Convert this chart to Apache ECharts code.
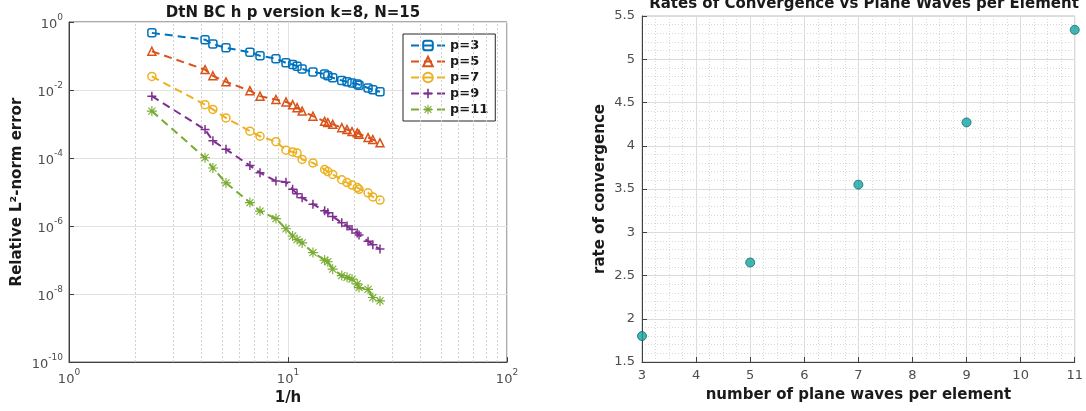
<!DOCTYPE html>
<html>
<head>
<meta charset="utf-8">
<script src="https://cdn.jsdelivr.net/npm/echarts@6/dist/echarts.min.js"></script>
<style>html,body{margin:0;padding:0;background:#fff;}#c{width:1086px;height:411px;}</style>
</head>
<body>
<div id="c"></div>
<script>
// ---- data: left chart (1/h vs relative L2 error) ----
var invH = [2.39, 4.18, 4.54, 5.21, 6.7, 7.45, 8.81, 9.79, 10.5, 11.0, 11.6, 13.0, 14.7, 15.2, 16.0, 17.6, 18.6, 19.6, 20.7, 21.1, 23.2, 24.4, 26.3];
var errP3 = [0.479, 0.302, 0.224, 0.174, 0.129, 0.102, 0.0832, 0.0631, 0.0562, 0.0501, 0.0417, 0.0339, 0.0295, 0.0263, 0.0229, 0.0191, 0.0174, 0.0162, 0.0151, 0.0138, 0.0115, 0.0102, 0.0089];
var errP5 = [0.138, 0.0398, 0.0263, 0.0174, 0.00955, 0.00661, 0.00525, 0.00447, 0.00372, 0.00302, 0.0024, 0.0017, 0.0012, 0.0011, 0.00098, 0.00078, 0.00069, 0.0006, 0.00055, 0.0005, 0.0004, 0.00035, 0.00028];
var errP7 = [0.0251, 0.00372, 0.00269, 0.00151, 0.000617, 0.000437, 0.000302, 0.00017, 0.000151, 0.000141, 9.1e-5, 7.2e-5, 4.6e-5, 4.0e-5, 3.3e-5, 2.3e-5, 1.9e-5, 1.6e-5, 1.35e-5, 1.2e-5, 9.5e-6, 7.2e-6, 5.8e-6];
var errP9 = [0.0066, 6.9e-4, 3.2e-4, 1.8e-4, 6.0e-5, 3.7e-5, 2.1e-5, 1.95e-5, 1.2e-5, 8.9e-6, 6.8e-6, 4.4e-6, 2.8e-6, 2.45e-6, 1.9e-6, 1.26e-6, 1.0e-6, 7.9e-7, 6.3e-7, 5.5e-7, 3.6e-7, 2.8e-7, 2.1e-7];
var errP11 = [0.0024, 1.02e-4, 5.1e-5, 1.86e-5, 4.9e-6, 2.75e-6, 1.66e-6, 8.3e-7, 5.1e-7, 4.0e-7, 3.2e-7, 1.66e-7, 1.0e-7, 8.9e-8, 5.4e-8, 3.5e-8, 3.1e-8, 2.75e-8, 2.0e-8, 1.55e-8, 1.38e-8, 7.9e-9, 6.3e-9];
var seriesNames = ['p=3', 'p=5', 'p=7', 'p=9', 'p=11'];
var minorGridX = [2, 3, 4, 5, 6, 7, 8, 9, 20, 30, 40, 50, 60, 70, 80, 90];

// ---- data: right chart (rates of convergence) ----
var planeWaves = [3, 5, 7, 9, 11];
var rates = [1.80, 2.65, 3.55, 4.27, 5.34];

var FONT = 'DejaVu Sans';
var colors = ['#0072BD', '#D95319', '#EDB120', '#7E2F8E', '#77AC30'];
var plusPath = 'path://M8.5,1L11.5,1L11.5,19L8.5,19ZM1,8.5L19,8.5L19,11.5L1,11.5Z';
var starPath = 'path://M9,1L11,1L11,19L9,19ZM1,9L19,9L19,11L1,11ZM2.9,4.3L4.3,2.9L17.1,15.7L15.7,17.1ZM15.7,2.9L17.1,4.3L4.3,17.1L2.9,15.7Z';
var symbols = ['roundRect', 'triangle', 'circle', plusPath, starPath];
var symSizes = [8, 8, 8, 9, 10];
var hollow = [true, true, true, false, false];
var allErr = [errP3, errP5, errP7, errP9, errP11];

function pow10Label(v) {
  var e = Math.round(Math.log(v) / Math.LN10);
  return '{b|10}{s|' + e + '}';
}
var supRich = {
  b: {fontFamily: FONT, fontSize: 13, color: '#4d4d4d', verticalAlign: 'bottom', lineHeight: 18},
  s: {fontFamily: FONT, fontSize: 9, color: '#4d4d4d', verticalAlign: 'top', lineHeight: 18, padding: [0, 0, 9, 0]}
};

var leftSeries = allErr.map(function (arr, k) {
  return {
    name: seriesNames[k],
    type: 'line',
    xAxisIndex: 0, yAxisIndex: 0,
    data: invH.map(function (x, i) { return [x, arr[i]]; }),
    symbol: symbols[k],
    symbolSize: symSizes[k],
    showAllSymbol: true,
    lineStyle: {color: colors[k], width: 2, type: [8, 5]},
    itemStyle: hollow[k] ? {color: 'rgba(255,255,255,0)', borderColor: colors[k], borderWidth: 1.5} : {color: colors[k]},
    z: 5 + k,
    animation: false
  };
});
leftSeries[0].markLine = {
  silent: true, symbol: 'none', label: {show: false},
  lineStyle: {color: '#cfcfcf', type: [2, 2], width: 1},
  animation: false,
  data: minorGridX.map(function (v) { return {xAxis: v}; })
};

var axisLineColor = '#404040';
var nameStyle = {fontFamily: FONT, fontSize: 15, fontWeight: 'bold', color: '#1a1a1a'};
var option = {
  animation: false,
  backgroundColor: '#fff',
  title: [
    {text: 'DtN BC h p version k=8, N=15', left: 288, textAlign: 'center', top: 1,
      textStyle: {fontFamily: FONT, fontSize: 15, fontWeight: 'bold', color: '#1a1a1a'}},
    {text: 'Rates of Convergence vs Plane Waves per Element', left: 859, textAlign: 'center', top: -8,
      textStyle: {fontFamily: FONT, fontSize: 15, fontWeight: 'bold', color: '#1a1a1a'}}
  ],
  legend: {
    data: seriesNames,
    orient: 'vertical',
    left: 403, top: 34,
    padding: [5, 7, 5, 7],
    itemGap: 3,
    itemWidth: 34, itemHeight: 12,
    backgroundColor: '#fff',
    borderColor: '#262626', borderWidth: 1,
    textStyle: {fontFamily: FONT, fontSize: 13, fontWeight: 'bold', color: '#1a1a1a'}
  },
  grid: [
    {left: 69, top: 22, width: 438, height: 341, show: true, borderColor: '#555', borderWidth: 1, backgroundColor: 'transparent'},
    {left: 642, top: 16, width: 436, height: 346, show: true, borderColor: '#bbb', borderWidth: 1, backgroundColor: 'transparent'}
  ],
  xAxis: [
    {type: 'log', logBase: 10, gridIndex: 0, min: 1, max: 100, interval: 1,
      name: '1/h', nameLocation: 'middle', nameGap: 24, nameTextStyle: nameStyle,
      axisLine: {lineStyle: {color: axisLineColor}},
      axisTick: {inside: true, length: 5, lineStyle: {color: axisLineColor}},
      axisLabel: {formatter: pow10Label, rich: supRich, margin: 6},
      splitLine: {show: true, lineStyle: {color: '#e3e3e3'}}
    },
    {type: 'value', gridIndex: 1, min: 3, max: 11, interval: 1,
      name: 'number of plane waves per element', nameLocation: 'middle', nameGap: 26, nameTextStyle: nameStyle,
      axisLine: {lineStyle: {color: axisLineColor}},
      axisTick: {inside: true, length: 5, lineStyle: {color: axisLineColor}},
      axisLabel: {fontFamily: FONT, fontSize: 13, color: '#4d4d4d', margin: 7},
      splitLine: {show: true, lineStyle: {color: '#dcdcdc'}},
      minorTick: {show: false, splitNumber: 4},
      minorSplitLine: {show: true, lineStyle: {color: '#d8d8d8', type: [1, 2]}}
    }
  ],
  yAxis: [
    {type: 'log', logBase: 10, gridIndex: 0, min: 1e-10, max: 1, interval: 2,
      name: 'Relative L²-norm error', nameLocation: 'middle', nameGap: 44, nameTextStyle: nameStyle,
      axisLine: {lineStyle: {color: axisLineColor}},
      axisTick: {inside: true, length: 5, lineStyle: {color: axisLineColor}},
      axisLabel: {formatter: pow10Label, rich: supRich, margin: 6},
      splitLine: {show: true, lineStyle: {color: '#e3e3e3'}}
    },
    {type: 'value', gridIndex: 1, min: 1.5, max: 5.5, interval: 0.5,
      name: 'rate of convergence', nameLocation: 'middle', nameGap: 34, nameTextStyle: nameStyle,
      axisLine: {lineStyle: {color: axisLineColor}},
      axisTick: {inside: true, length: 5, lineStyle: {color: axisLineColor}},
      axisLabel: {fontFamily: FONT, fontSize: 13, color: '#4d4d4d', margin: 7},
      splitLine: {show: true, lineStyle: {color: '#dcdcdc'}},
      minorTick: {show: false, splitNumber: 5},
      minorSplitLine: {show: true, lineStyle: {color: '#d8d8d8', type: [1, 2]}}
    }
  ],
  series: leftSeries.concat([
    {type: 'scatter', xAxisIndex: 1, yAxisIndex: 1,
      data: planeWaves.map(function (x, i) { return [x, rates[i]]; }),
      symbol: 'circle', symbolSize: 9,
      itemStyle: {color: '#14a3a3', borderColor: '#0d6b6b', borderWidth: 1},
      z: 10, clip: false}
  ])
};

var chart = echarts.init(document.getElementById('c'), null, {renderer: 'canvas'});
chart.setOption(option);
</script>
</body>
</html>
